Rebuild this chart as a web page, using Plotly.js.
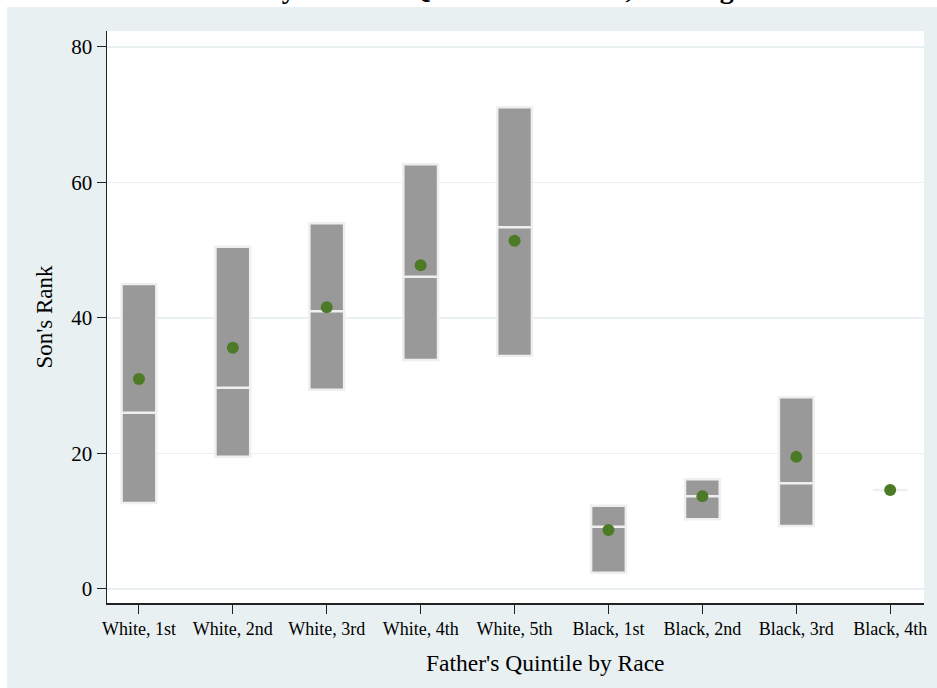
<!DOCTYPE html>
<html>
<head>
<meta charset="utf-8">
<script src="https://cdn.plot.ly/plotly-3.0.1.min.js"></script>
<style>html,body{margin:0;padding:0;background:#fff;}#chart{width:937px;height:688px;}</style>
</head>
<body>
<div id="chart"></div>
<script>
const categories = ["White, 1st","White, 2nd","White, 3rd","White, 4th","White, 5th","Black, 1st","Black, 2nd","Black, 3rd","Black, 4th"];
const q1Values     = [12.7, 19.5, 29.4, 33.8, 34.4, 2.4, 10.3, 9.3, 14.6];
const medianValues = [26.0, 29.7, 41.0, 46.1, 53.4, 9.2, 13.7, 15.6, 14.6];
const q3Values     = [45.0, 50.5, 54.0, 62.7, 71.1, 12.3, 16.2, 28.3, 14.6];
const meanValues   = [31.0, 35.6, 41.6, 47.8, 51.4, 8.7, 13.7, 19.5, 14.6];
const yTicks = [0, 20, 40, 60, 80];

const serif = "Liberation Serif, Times New Roman, serif";

const boxTrace = {
  type: "box",
  x: categories,
  q1: q1Values,
  median: medianValues,
  q3: q3Values,
  lowerfence: q1Values,
  upperfence: q3Values,
  boxpoints: false,
  whiskerwidth: 0,
  width: 0.37,
  fillcolor: "#999999",
  line: {color: "#efefef", width: 2.5},
  hoverinfo: "skip",
  showlegend: false
};

const meanTrace = {
  type: "scatter",
  mode: "markers",
  x: categories,
  y: meanValues,
  marker: {color: "#4c7a26", size: 12},
  hoverinfo: "skip",
  showlegend: false
};

const layout = {
  width: 937,
  height: 688,
  paper_bgcolor: "#e9f0f2",
  plot_bgcolor: "#ffffff",
  margin: {l: 107, r: 13, t: 31, b: 85},
  font: {family: serif, color: "#000"},
  xaxis: {
    type: "category",
    range: [-0.34, 8.36],
    showgrid: false,
    zeroline: false,
    showline: true,
    linecolor: "#222",
    linewidth: 1.5,
    ticks: "outside",
    ticklen: 9,
    tickcolor: "#222",
    tickwidth: 1,
    tickfont: {family: serif, size: 18, color: "#000"},
    fixedrange: true
  },
  yaxis: {
    range: [-2.07, 82.36],
    tickvals: yTicks,
    ticktext: yTicks.map(String),
    showgrid: true,
    gridcolor: "#e9f0f2",
    gridwidth: 1.5,
    zeroline: false,
    showline: true,
    linecolor: "#222",
    linewidth: 1.5,
    ticks: "outside",
    ticklen: 9,
    tickcolor: "#222",
    tickwidth: 1,
    tickfont: {family: serif, size: 21, color: "#000"},
    title: {text: "Son's Rank", font: {family: serif, size: 23, color: "#000"}, standoff: 12},
    fixedrange: true
  },
  annotations: [
    {text: "<b>Son's Rank by Father's Quintile and Race, Men Ages 30-40</b>", xref: "paper", yref: "paper",
     x: 0.452, y: 1.044, xanchor: "center", yanchor: "bottom", showarrow: false,
     font: {family: serif, size: 28, color: "#000"}},
    {text: "Father's Quintile by Race", xref: "paper", yref: "paper", x: 0.537, y: -0.105,
     xanchor: "center", yanchor: "middle", showarrow: false,
     font: {family: serif, size: 23.5, color: "#000"}}
  ],
  shapes: [
    {type: "rect", xref: "paper", yref: "paper", x0: -0.2, x1: 1.1, layer: "below",
     fillcolor: "#ffffff", line: {width: 0}, ysizemode: "pixel", yanchor: 1.0, y0: 24, y1: 40},
    {type: "rect", xref: "paper", yref: "paper", y0: -0.2, y1: 1.2, layer: "below",
     fillcolor: "#ffffff", line: {width: 0}, xsizemode: "pixel", xanchor: 0, x0: -107, x1: -100}
  ],
  hovermode: false
};

Plotly.newPlot("chart", [boxTrace, meanTrace], layout, {displayModeBar: false, staticPlot: true});
</script>
</body>
</html>
